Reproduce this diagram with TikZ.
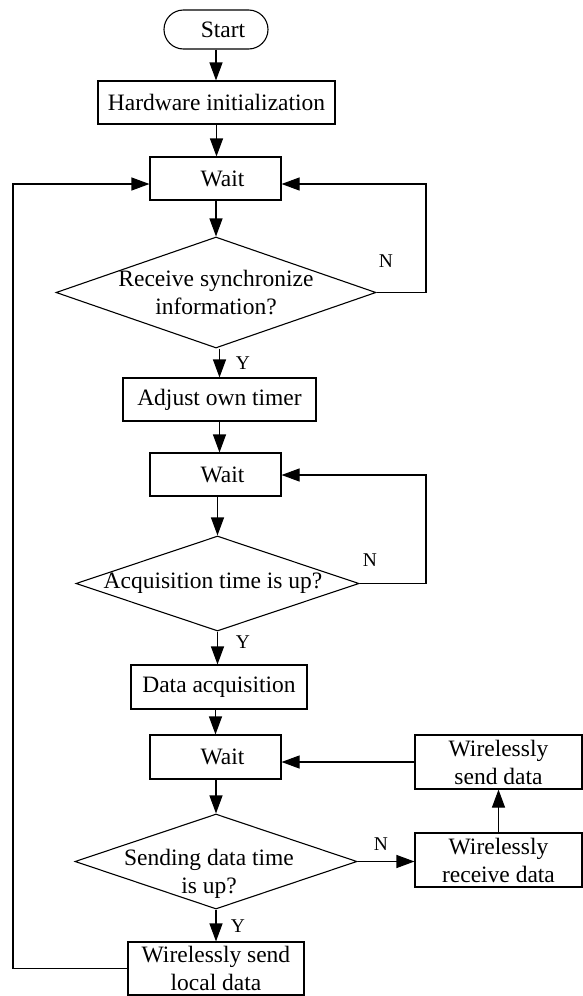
\documentclass[tikz,border=0pt]{standalone}
\usepackage{fontspec}
\setmainfont{Liberation Serif}
\usetikzlibrary{arrows.meta,shapes.geometric}

\begin{document}
\begin{tikzpicture}[x=1pt,y=-1pt,
  font=\fontsize{23.5}{28}\selectfont,
  line width=1.1pt,
  box/.style={draw, rectangle, inner sep=0pt, align=center},
  dia/.style={draw, diamond, inner sep=0pt},
  dtext/.style={inner sep=0pt, align=center},
  arr/.style={-{Triangle[length=18pt,width=13pt]}},
  lbl/.style={font=\fontsize{19.5}{22}\selectfont, inner sep=0pt},
]
\useasboundingbox (0,0) rectangle (583,996);

% main column
\node[box, rounded corners=19.5pt, minimum width=104pt, minimum height=39pt] (start) at (216,29.5) {\hspace*{14pt}Start};
\node[box, minimum width=237pt, minimum height=43pt] (hw) at (216.5,102.5) {Hardware initialization};
\node[box, minimum width=131pt, minimum height=43pt] (w1) at (215.5,178.5) {\hspace*{14pt}Wait};
\node[dia, minimum width=320pt, minimum height=111pt] (d1) at (216,292.5) {};
\node[dtext] (t1) at (d1.center) {Receive synchronize\\information?};
\node[box, minimum width=193pt, minimum height=43pt] (adj) at (219.5,399.5) {Adjust own timer};
\node[box, minimum width=131pt, minimum height=43pt] (w2) at (215.5,474.5) {\hspace*{14pt}Wait};
\node[dia, minimum width=283pt, minimum height=95pt] (d2) at (217.5,583.5) {};
\node[dtext] (t2) at (213,583) {Acquisition time is up?};
\node[box, minimum width=176pt, minimum height=44pt] (acq) at (219,687) {Data acquisition};
\node[box, minimum width=131pt, minimum height=44pt] (w3) at (215.5,757) {\hspace*{14pt}Wait};
\node[dia, minimum width=282pt, minimum height=95pt] (d3) at (216,861.5) {};
\node[dtext] (t3) at (209,873.5) {Sending data time\\is up?};
\node[box, minimum width=176pt, minimum height=53pt] (loc) at (216,968.5) {Wirelessly send\\local data};

% side column
\node[box, minimum width=167pt, minimum height=54pt] (sx) at (498.5,762) {Wirelessly\\send data};
\node[box, minimum width=167pt, minimum height=54pt] (rx) at (498.5,860) {Wirelessly\\receive data};

% loop corners
\coordinate (r1) at (426,184);
\coordinate (r2) at (426,475);
\coordinate (l1) at (13,184);

% straight flow
\draw[arr] (start.south) -- (start.south |- hw.north);
\draw[arr] (hw.south) -- (hw.south |- w1.north);
\draw[arr] (d1.north |- w1.south) -- (d1.north);
\draw[arr] (adj.south |- d1.south) -- (adj.north);
\draw[arr] (adj.south) -- (adj.south |- w2.north);
\draw[arr] (d2.north |- w2.south) -- (d2.north);
\draw[arr] (d2.south) -- (d2.south |- acq.north);
\draw[arr] (w3.north |- acq.south) -- (w3.north);
\draw[arr] (d3.north |- w3.south) -- (d3.north);
\draw[arr] (d3.south) -- (d3.south |- loc.north);

% loops and branches
\draw[arr] (d1.east) -| (r1) -- (w1.east |- r1);
\draw[arr] (d2.east) -| (r2) -- (w2.east |- r2);
\draw[arr] (d3.east) -- (rx.west |- d3.east);
\draw[arr] (rx.north) -- (sx.south);
\draw[arr] (sx.west) -- (w3.east |- sx.west);
\draw[arr] (loc.west) -| (l1) -- (w1.west |- l1);

% branch labels
\node[lbl] (n1) at (386,261) {N};
\node[lbl] (y1) at (243,363) {Y};
\node[lbl] (n2) at (370,560) {N};
\node[lbl] (y2) at (243,642) {Y};
\node[lbl] (n3) at (381,844) {N};
\node[lbl] (y3) at (238,926) {Y};
\end{tikzpicture}
\end{document}
